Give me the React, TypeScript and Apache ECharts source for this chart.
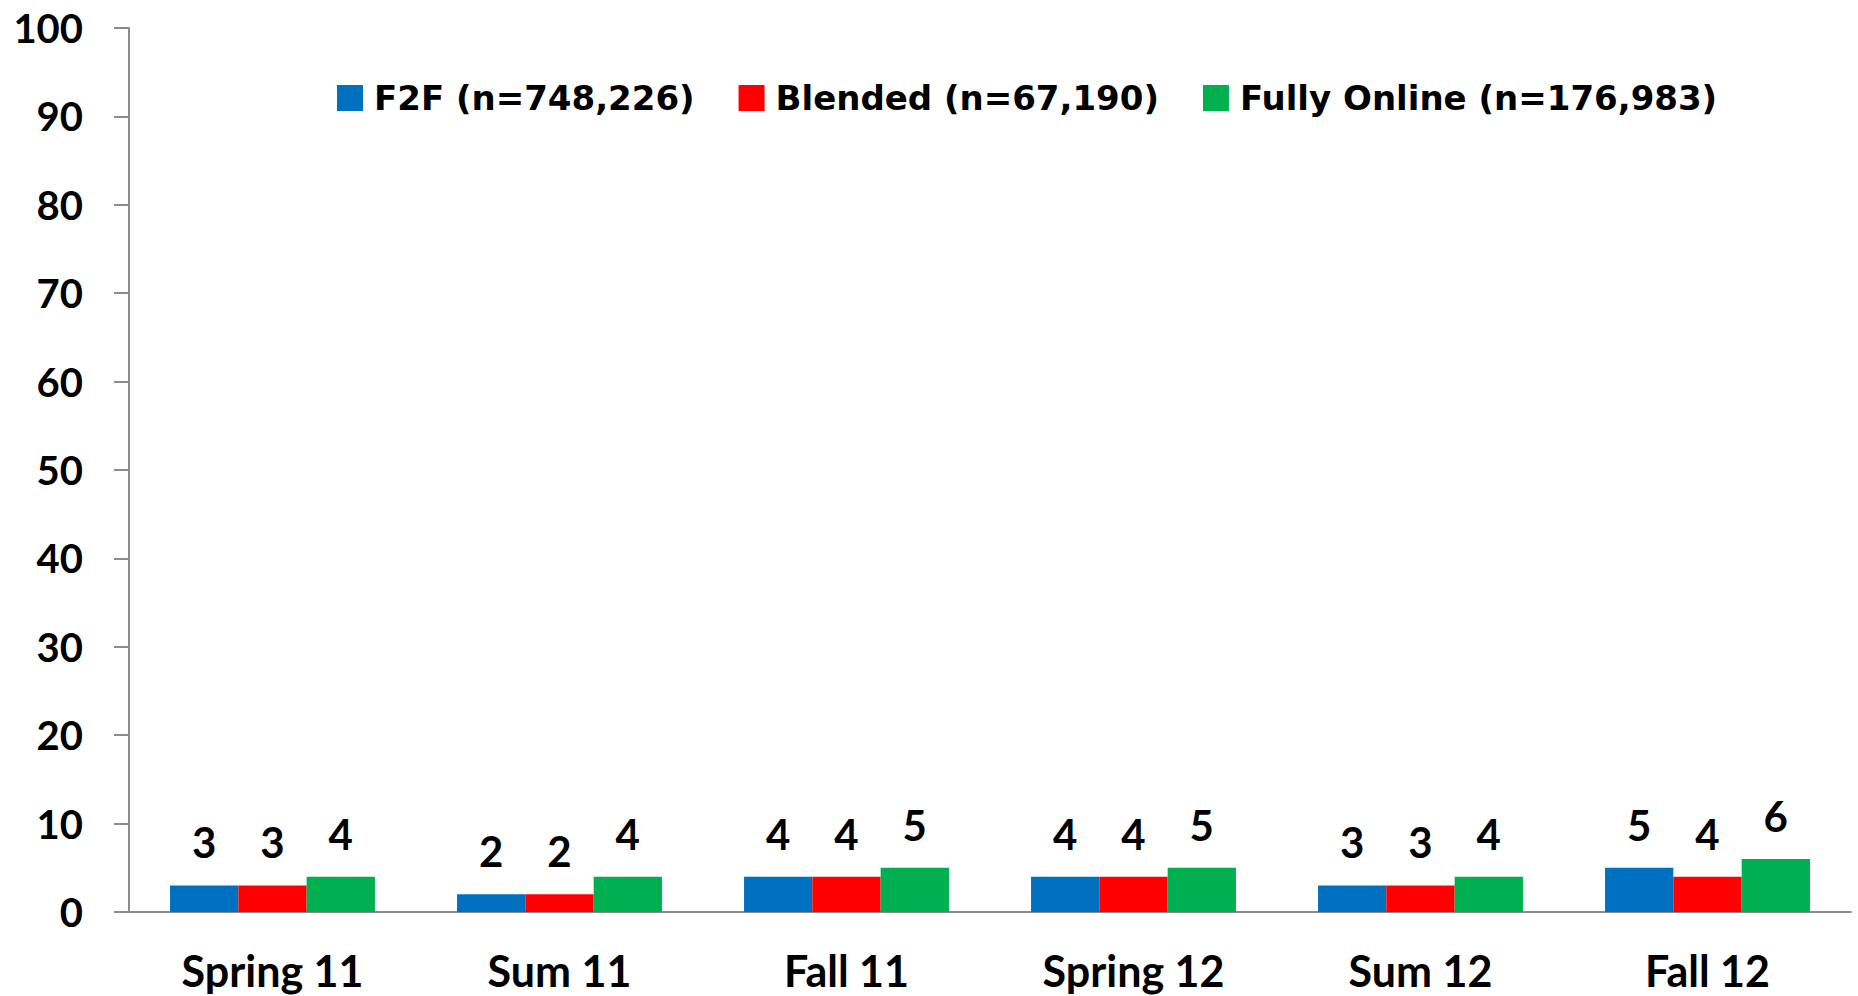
import React, { useEffect, useRef } from "react";
import * as echarts from "echarts";

const categories = ["Spring 11", "Sum 11", "Fall 11", "Spring 12", "Sum 12", "Fall 12"];
const seriesNames = ["F2F (n=748,226)", "Blended (n=67,190)", "Fully Online (n=176,983)"];
const f2f = [3, 2, 4, 4, 3, 5];
const blended = [3, 2, 4, 4, 3, 4];
const online = [4, 4, 5, 5, 4, 6];
const colors = ["#0070C0", "#FF0000", "#00B050"];

export default function App() {
  const ref = useRef<HTMLDivElement>(null);
  useEffect(() => {
    if (!ref.current) return;
    const chart = echarts.init(ref.current, null, { renderer: "svg" });
    const data = [f2f, blended, online];
    chart.setOption({
      animation: false,
      backgroundColor: "#ffffff",
      grid: { left: 129, right: 7, top: 28, bottom: 84, containLabel: false },
      legend: {
        top: 76,
        left: 332,
        itemWidth: 26,
        itemHeight: 26,
        itemGap: 44,
        icon: "rect",
        data: seriesNames,
        textStyle: {
          fontFamily: "DejaVu Sans",
          fontWeight: "bold",
          fontSize: 34,
          color: "#000",
          padding: [0, 0, 0, 6],
        },
      },
      xAxis: {
        type: "category",
        data: categories,
        axisLine: { lineStyle: { color: "#8c8c8c", width: 2 } },
        axisTick: { length: 13, lineStyle: { color: "#8c8c8c", width: 2 } },
        axisLabel: {
          margin: 37,
          fontFamily: "Lato",
          fontWeight: "bold",
          fontSize: 43,
          color: "#000",
        },
      },
      yAxis: {
        type: "value",
        min: 0,
        max: 100,
        interval: 10,
        splitLine: { show: false },
        axisLine: { show: true, lineStyle: { color: "#8c8c8c", width: 2 } },
        axisTick: { show: true, length: 15, lineStyle: { color: "#8c8c8c", width: 2 } },
        axisLabel: {
          margin: 46,
          fontFamily: "Lato",
          fontWeight: "bold",
          fontSize: 40,
          color: "#000",
        },
      },
      series: seriesNames.map((name, i) => ({
        name,
        type: "bar",
        data: data[i],
        barGap: "0%",
        barCategoryGap: "28.6%",
        itemStyle: { color: colors[i] },
        label: {
          show: true,
          position: "top",
          distance: 22,
          fontFamily: "Lato",
          fontWeight: "bold",
          fontSize: 42,
          color: "#000",
        },
      })),
    });
    return () => chart.dispose();
  }, []);
  return (
    <div
      ref={ref}
      style={{ position: "absolute", left: 0, top: 0, width: 1858, height: 996 }}
    />
  );
}
